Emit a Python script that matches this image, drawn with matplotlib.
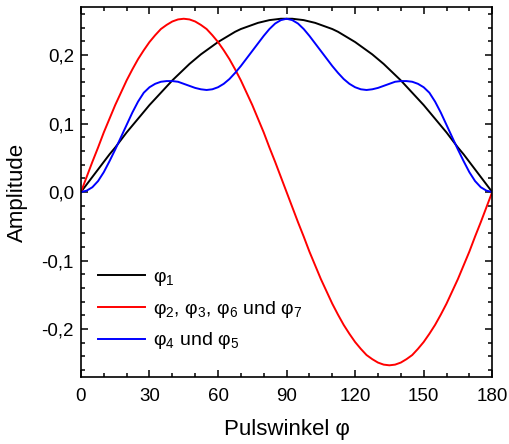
import matplotlib
matplotlib.use("Agg")
import matplotlib.pyplot as plt
from matplotlib.ticker import MultipleLocator, FuncFormatter

plt.rcParams['font.family'] = ['Liberation Sans', 'DejaVu Sans']
plt.rcParams['mathtext.fontset'] = 'custom'
plt.rcParams['mathtext.rm'] = 'Liberation Sans'
plt.rcParams['mathtext.default'] = 'regular'

# pulse angle in degrees (2.5 degree steps, 0..180)
angle = [i * 2.5 for i in range(73)]

# phi_1
amp_phi1 = [0.000, 0.011, 0.022, 0.033, 0.044, 0.055, 0.065, 0.076, 0.087, 0.097,
            0.107, 0.117, 0.127, 0.136, 0.145, 0.154, 0.163, 0.171, 0.179, 0.187,
            0.194, 0.201, 0.207, 0.213, 0.219, 0.224, 0.229, 0.234, 0.238, 0.241,
            0.244, 0.247, 0.249, 0.251, 0.252, 0.253, 0.253,
            0.253, 0.252, 0.251, 0.249, 0.247, 0.244, 0.241, 0.238, 0.234, 0.229,
            0.224, 0.219, 0.213, 0.207, 0.201, 0.194, 0.187, 0.179, 0.171, 0.163,
            0.154, 0.145, 0.136, 0.127, 0.117, 0.107, 0.097, 0.087, 0.076, 0.065,
            0.055, 0.044, 0.033, 0.022, 0.011, 0.000]

# phi_2, phi_3, phi_6, phi_7
amp_phi2 = [0.000, 0.022, 0.044, 0.065, 0.087, 0.107, 0.127, 0.145, 0.163, 0.179,
            0.194, 0.207, 0.219, 0.229, 0.238, 0.244, 0.249, 0.252, 0.253, 0.252,
            0.249, 0.244, 0.238, 0.229, 0.219, 0.207, 0.194, 0.179, 0.163, 0.145,
            0.127, 0.107, 0.087, 0.065, 0.044, 0.022, 0.000,
            -0.022, -0.044, -0.065, -0.087, -0.107, -0.127, -0.145, -0.163, -0.179,
            -0.194, -0.207, -0.219, -0.229, -0.238, -0.244, -0.249, -0.252, -0.253,
            -0.252, -0.249, -0.244, -0.238, -0.229, -0.219, -0.207, -0.194, -0.179,
            -0.163, -0.145, -0.127, -0.107, -0.087, -0.065, -0.044, -0.022, 0.000]

# phi_4, phi_5
amp_phi4 = [0.000, 0.002, 0.007, 0.016, 0.029, 0.045, 0.062, 0.080, 0.098, 0.116,
            0.132, 0.145, 0.153, 0.158, 0.161, 0.162, 0.162, 0.161, 0.158, 0.155,
            0.152, 0.150, 0.149, 0.150, 0.153, 0.158, 0.165, 0.174, 0.184, 0.195,
            0.206, 0.217, 0.228, 0.238, 0.246, 0.251, 0.253,
            0.251, 0.246, 0.238, 0.228, 0.217, 0.206, 0.195, 0.184, 0.174, 0.165,
            0.158, 0.153, 0.150, 0.149, 0.150, 0.152, 0.155, 0.158, 0.161, 0.162,
            0.162, 0.161, 0.158, 0.153, 0.145, 0.132, 0.116, 0.098, 0.080, 0.062,
            0.045, 0.029, 0.016, 0.007, 0.002, 0.000]

labels = ['φ$_1$', 'φ$_2$, φ$_3$, φ$_6$ und φ$_7$', 'φ$_4$ und φ$_5$']

fig = plt.figure(figsize=(5.09, 4.44), dpi=100)
ax = fig.add_axes([0.159, 0.151, 0.808, 0.833])

ax.plot(angle, amp_phi1, color='black', lw=1.4, label=labels[0])
ax.plot(angle, amp_phi2, color='red', lw=1.4, label=labels[1])
ax.plot(angle, amp_phi4, color='blue', lw=1.4, label=labels[2])

ax.set_xlim(0, 180)
ax.set_ylim(-0.27, 0.27)
ax.xaxis.set_major_locator(MultipleLocator(30))
ax.xaxis.set_minor_locator(MultipleLocator(10))
ax.yaxis.set_major_locator(MultipleLocator(0.1))
ax.yaxis.set_minor_locator(MultipleLocator(0.02))
ax.yaxis.set_major_formatter(FuncFormatter(lambda v, p: f"{v:.1f}".replace('.', ',').replace('-0,0', '0,0')))

ax.tick_params(which='both', direction='in', top=True, right=True, width=1.1, labelsize=13.5)
ax.tick_params(which='major', length=5)
ax.tick_params(which='minor', length=3)
ax.tick_params(axis='x', pad=8)
ax.tick_params(axis='y', pad=5)
for s in ax.spines.values():
    s.set_linewidth(1.2)

ax.set_xlabel('Pulswinkel φ', fontsize=16, labelpad=10)
ax.set_ylabel('Amplitude', fontsize=16, labelpad=10)

ax.legend(loc='lower left', frameon=False, fontsize=14, handlelength=2.4,
          handletextpad=0.4, labelspacing=0.55, bbox_to_anchor=(0.0, 0.022))

fig.savefig('out.png', dpi=100)
